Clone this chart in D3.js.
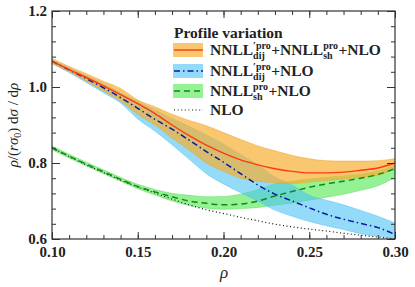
<!DOCTYPE html>
<html>
<head>
<meta charset="utf-8">
<title>Profile variation</title>
<style>
body { margin: 0px; background: #fff; }
svg text { font-family: "Liberation Serif", "Times New Roman", serif; font-weight: bold; fill: #222; }
</style>
<script src="https://cdnjs.cloudflare.com/ajax/libs/d3/7.8.5/d3.min.js"></script>
</head>
<body>
<script>
var rho = [0.10,0.11,0.12,0.13,0.14,0.15,0.16,0.17,0.18,0.19,0.20,0.21,0.22,0.23,0.24,0.25,0.26,0.27,0.28,0.29,0.30];

// NNLL'dij + NNLLsh + NLO (orange band, red line)
var profMid = [1.068,1.046,1.025,1.003,0.980,0.956,0.930,0.900,0.872,0.847,0.826,0.808,0.795,0.785,0.778,0.774,0.774,0.776,0.781,0.787,0.800];
var profUp  = [1.075,1.054,1.035,1.015,0.996,0.966,0.948,0.928,0.912,0.898,0.880,0.862,0.845,0.832,0.820,0.811,0.806,0.805,0.805,0.806,0.812];
var profLo  = [1.062,1.040,1.015,0.990,0.963,0.928,0.900,0.866,0.834,0.800,0.778,0.760,0.752,0.748,0.746,0.750,0.754,0.758,0.762,0.768,0.785];

// NNLL'dij + NLO (blue band, dash-dot)
var dijMid = [1.068,1.045,1.022,0.998,0.972,0.944,0.915,0.889,0.860,0.830,0.802,0.772,0.742,0.718,0.700,0.682,0.665,0.652,0.641,0.630,0.612];
var dijUp  = [1.072,1.050,1.030,1.008,0.985,0.962,0.940,0.917,0.896,0.874,0.850,0.822,0.795,0.763,0.742,0.715,0.702,0.690,0.675,0.660,0.642];
var dijLo  = [1.062,1.038,1.012,0.985,0.958,0.916,0.884,0.848,0.810,0.772,0.745,0.722,0.700,0.676,0.660,0.646,0.635,0.625,0.614,0.607,0.600];

// NNLLsh + NLO (green band, dashed)
var shMid = [0.840,0.818,0.797,0.777,0.757,0.738,0.724,0.711,0.700,0.694,0.690,0.692,0.700,0.713,0.725,0.736,0.745,0.752,0.760,0.770,0.785];
var shUp  = [0.845,0.823,0.802,0.782,0.762,0.744,0.730,0.720,0.715,0.711,0.712,0.718,0.730,0.745,0.752,0.758,0.762,0.766,0.770,0.778,0.795];
var shLo  = [0.835,0.813,0.792,0.772,0.752,0.732,0.716,0.700,0.688,0.681,0.678,0.680,0.683,0.689,0.695,0.702,0.710,0.718,0.728,0.740,0.762];

// NLO (dotted)
var nlo = [0.840,0.817,0.795,0.775,0.755,0.737,0.721,0.705,0.690,0.677,0.667,0.657,0.648,0.639,0.632,0.626,0.621,0.615,0.610,0.605,0.600];

var xMajor = [0.10,0.15,0.20,0.25,0.30];
var yMajor = [0.6,0.8,1.0,1.2];

var W = 415, H = 287;
var FONT = '"Liberation Serif", "Times New Roman", serif';
var svg = d3.select("body").append("svg").attr("width", W).attr("height", H)
  .attr("font-family", FONT);

var x = d3.scaleLinear().domain([0.1,0.3]).range([52,395]);
var y = d3.scaleLinear().domain([0.6,1.2]).range([239,11]);

var defs = svg.append("defs");
defs.append("clipPath").attr("id","clip").append("rect")
  .attr("x",52).attr("y",11).attr("width",343).attr("height",228);

var plot = svg.append("g").attr("clip-path","url(#clip)");

function band(lo, up) {
  return d3.area().x(function(d,i){ return x(rho[i]); })
    .y0(function(d,i){ return y(lo[i]); })
    .y1(function(d,i){ return y(up[i]); })
    .curve(d3.curveMonotoneX)(rho);
}
function line(v) {
  return d3.line().x(function(d,i){ return x(rho[i]); })
    .y(function(d,i){ return y(v[i]); })
    .curve(d3.curveMonotoneX)(rho);
}

var styles = {
  sh:   {fill:"#3de83d", op:0.55, edge:"#5ad85a", stroke:"#118811", dash:"6,4", w:1.5},
  dij:  {fill:"#4cc3f5", op:0.6,  edge:"#55c0ee", stroke:"#0a1aa0", dash:"6,3,1.5,3", w:1.5},
  prof: {fill:"#f5af32", op:0.7,  edge:"#f0a020", stroke:"#ff3a10", dash:null, w:1.4},
  nlo:  {stroke:"#111", dash:"1,2.6", w:1.2}
};

[["sh",shLo,shUp],["dij",dijLo,dijUp],["prof",profLo,profUp]].forEach(function(b){
  var s = styles[b[0]];
  plot.append("path").attr("d", band(b[1], b[2]))
    .attr("fill", s.fill).attr("fill-opacity", s.op)
    .attr("stroke", s.edge).attr("stroke-width", 0.6).attr("stroke-opacity", 0.8);
});

[["nlo",nlo],["sh",shMid],["dij",dijMid],["prof",profMid]].forEach(function(l){
  var s = styles[l[0]];
  plot.append("path").attr("d", line(l[1]))
    .attr("fill","none").attr("stroke", s.stroke).attr("stroke-width", s.w)
    .attr("stroke-dasharray", s.dash);
});

// axes: inward ticks all around
var axisCol = "#333";
function minorRange(a, b, step) {
  var r = [];
  for (var v = a; v <= b + 1e-9; v += step) r.push(+v.toFixed(4));
  return r;
}
var xMinor = minorRange(0.10, 0.30, 0.01);
var yMinor = minorRange(0.60, 1.20, 0.04);

function styleAxis(g) {
  g.attr("font-family", FONT);
  g.select(".domain").remove();
  g.selectAll("line").attr("stroke", axisCol).attr("stroke-width", 1);
}
svg.append("g").attr("transform","translate(0,239)")
  .call(d3.axisBottom(x).tickValues(xMinor).tickSize(-4).tickFormat("")).call(styleAxis);
svg.append("g").attr("transform","translate(0,239)")
  .call(d3.axisBottom(x).tickValues(xMajor).tickSize(-7).tickPadding(8).tickFormat(d3.format(".2f")))
  .call(styleAxis)
  .selectAll("text").attr("font-size", 15).attr("y", 7).attr("dy","0.75em").style("fill","#222");
svg.append("g").attr("transform","translate(0,11)")
  .call(d3.axisTop(x).tickValues(xMinor).tickSize(-4).tickFormat("")).call(styleAxis);
svg.append("g").attr("transform","translate(0,11)")
  .call(d3.axisTop(x).tickValues(xMajor).tickSize(-7).tickFormat("")).call(styleAxis);

svg.append("g").attr("transform","translate(52,0)")
  .call(d3.axisLeft(y).tickValues(yMinor).tickSize(-4).tickFormat("")).call(styleAxis);
svg.append("g").attr("transform","translate(52,0)")
  .call(d3.axisLeft(y).tickValues(yMajor).tickSize(-8).tickPadding(5).tickFormat(d3.format(".1f")))
  .call(styleAxis)
  .selectAll("text").attr("font-size", 15).attr("x", -5).style("fill","#222");
svg.append("g").attr("transform","translate(395,0)")
  .call(d3.axisRight(y).tickValues(yMinor).tickSize(-4).tickFormat("")).call(styleAxis);
svg.append("g").attr("transform","translate(395,0)")
  .call(d3.axisRight(y).tickValues(yMajor).tickSize(-8).tickFormat("")).call(styleAxis);

svg.append("rect").attr("x",52).attr("y",11).attr("width",343).attr("height",228)
  .attr("fill","none").attr("stroke",axisCol).attr("stroke-width",1.2);

// axis titles
svg.append("text").attr("x",224).attr("y",278).attr("text-anchor","middle")
  .attr("font-size",17).style("font-style","italic").style("font-weight","normal").text("ρ");

var yl = svg.append("text").attr("transform","translate(18,125) rotate(-90)")
  .attr("text-anchor","middle").attr("font-size",15).style("font-weight","normal");
yl.append("tspan").style("font-style","italic").text("ρ");
yl.append("tspan").text("/(");
yl.append("tspan").style("font-style","italic").text("rσ");
yl.append("tspan").attr("font-size",10).attr("dy",3).text("0");
yl.append("tspan").attr("dy",-3).text(") d");
yl.append("tspan").style("font-style","italic").text("σ");
yl.append("tspan").text(" / d");
yl.append("tspan").style("font-style","italic").text("ρ");

// legend
var leg = svg.append("g");
leg.append("text").attr("x",174).attr("y",38).attr("font-size",15.5).text("Profile variation");

function richLabel(g, x0, y0, parts) {
  var cx = x0;
  parts.forEach(function(p){
    var t = g.append("text").attr("x",cx).attr("y",y0).attr("font-size",15.5).text(p.t);
    cx += t.node().getComputedTextLength();
    if (p.sup || p.sub) {
      var w = 0;
      if (p.sup) {
        var s = g.append("text").attr("x",cx).attr("y",y0-6).attr("font-size",10).text(p.sup);
        w = Math.max(w, s.node().getComputedTextLength());
      }
      if (p.sub) {
        var b = g.append("text").attr("x",cx).attr("y",y0+4).attr("font-size",10).text(p.sub);
        w = Math.max(w, b.node().getComputedTextLength());
      }
      cx += w + 0.5;
    }
  });
}

var legRows = [
  {key:"prof", y:50, parts:[{t:"NNLL", sup:"′pro", sub:"dij"},{t:"+NNLL", sup:"pro", sub:"sh"},{t:"+NLO"}]},
  {key:"dij",  y:71, parts:[{t:"NNLL", sup:"′pro", sub:"dij"},{t:"+NLO"}]},
  {key:"sh",   y:91, parts:[{t:"NNLL", sup:"pro", sub:"sh"},{t:"+NLO"}]},
  {key:"nlo",  y:110, parts:[{t:"NLO"}]}
];
legRows.forEach(function(r){
  var s = styles[r.key];
  if (s.fill) {
    leg.append("rect").attr("x",173).attr("y",r.y-7).attr("width",30).attr("height",14)
      .attr("fill",s.fill).attr("fill-opacity",s.op);
  }
  leg.append("line").attr("x1",174).attr("x2",203).attr("y1",r.y).attr("y2",r.y)
    .attr("stroke",s.stroke).attr("stroke-width",s.w).attr("stroke-dasharray",s.dash);
  richLabel(leg, 210, r.y+5, r.parts);
});
</script>
</body>
</html>
